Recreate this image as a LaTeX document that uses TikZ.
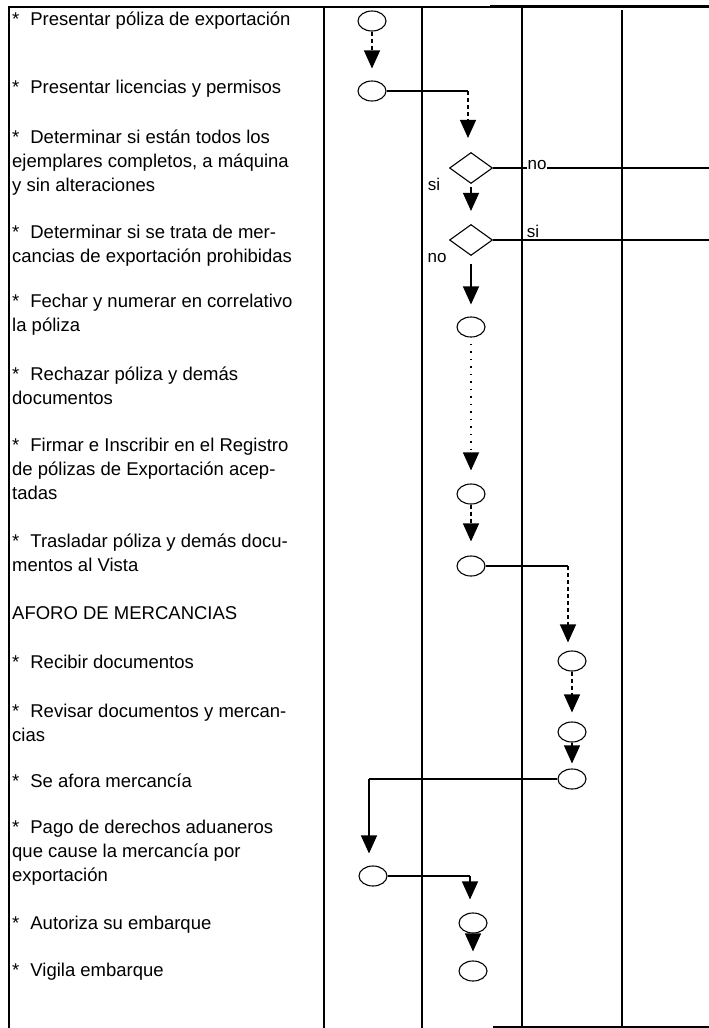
\documentclass[tikz,border=0pt]{standalone}
\usepackage{fontspec}
\setmainfont{Liberation Sans}
\usetikzlibrary{shapes.geometric,arrows.meta}
\begin{document}
\begin{tikzpicture}[x=1pt,y=-1pt,
  every node/.style={font=\fontsize{18.5}{24}\selectfont},
  txt/.style={anchor=base west, align=left, inner sep=0pt},
  ev/.style={ellipse, draw, line width=1.1pt, minimum width=28pt, minimum height=20pt, inner sep=0pt},
  dec/.style={diamond, draw, line width=1.1pt, minimum width=43pt, minimum height=31pt, inner sep=0pt},
  gridline/.style={line width=2pt},
  thingrid/.style={line width=1.6pt},
  tip/.style={-{Triangle[width=16pt,length=18pt]}, line width=1.2pt},
  plain/.style={line width=1.2pt},
  dsh/.style={dash pattern=on 4pt off 3pt},
  dts/.style={dash pattern=on 1.5pt off 6pt},
  lbl/.style={font=\fontsize{17}{20}\selectfont, inner sep=1pt}
]
\useasboundingbox (0,0) rectangle (709,1028);
% frame and columns
\draw[line width=2.5pt] (8,7) -- (709,7);
\draw[line width=3.5pt] (490,6.5) -- (709,6.5);
\draw[gridline] (9,6) -- (9,1028);
\draw[gridline] (324,6) -- (324,1028);
\draw[thingrid] (422,6) -- (422,1028);
\draw[gridline] (522,6) -- (522,1028);
\draw[gridline] (622,10) -- (622,1028);
\draw[gridline] (493,1027) -- (709,1027);

% texts (base = baseline of the last line)
\node[txt] (t1) at (12,25.5) {*\hspace{11pt}Presentar póliza de exportación};
\node[txt] (t2) at (12,93.5) {*\hspace{11pt}Presentar licencias y permisos};
\node[txt] (t3) at (12,191.5) {*\hspace{11pt}Determinar si están todos los\\ejemplares completos, a máquina\\y sin alteraciones};
\node[txt] (t4) at (12,262.5) {*\hspace{11pt}Determinar si se trata de mer-\\cancias de exportación prohibidas};
\node[txt] (t5) at (12,331.5) {*\hspace{11pt}Fechar y numerar en correlativo\\la póliza};
\node[txt] (t6) at (12,404.5) {*\hspace{11pt}Rechazar póliza y demás\\documentos};
\node[txt] (t7) at (12,499.5) {*\hspace{11pt}Firmar e Inscribir en el Registro\\de pólizas de Exportación acep-\\tadas};
\node[txt] (t8) at (12,571.5) {*\hspace{11pt}Trasladar póliza y demás docu-\\mentos al Vista};
\node[txt] (t9) at (12,619.5) {AFORO DE MERCANCIAS};
\node[txt] (t10) at (12,668.5) {*\hspace{11pt}Recibir documentos};
\node[txt] (t11) at (12,741.5) {*\hspace{11pt}Revisar documentos y mercan-\\cias};
\node[txt] (t12) at (12,787.5) {*\hspace{11pt}Se afora mercancía};
\node[txt] (t13) at (12,881.5) {*\hspace{11pt}Pago de derechos aduaneros\\que cause la mercancía por\\exportación};
\node[txt] (t14) at (12,929.5) {*\hspace{11pt}Autoriza su embarque};
\node[txt] (t15) at (12,976.5) {*\hspace{11pt}Vigila embarque};

% flow symbols
\node[ev] (e1) at (372,21) {};
\node[ev] (e2) at (372,91) {};
\node[dec] (d1) at (471,168) {};
\node[dec] (d2) at (471,240) {};
\node[ev] (e3) at (471,327) {};
\node[ev] (e4) at (471,494) {};
\node[ev] (e5) at (471,566) {};
\node[ev] (e6) at (572,661) {};
\node[ev] (e7) at (572,732) {};
\node[ev] (e8) at (572,779) {};
\node[ev] (e9) at (373,876) {};
\node[ev] (e10) at (473,923) {};
\node[ev] (e11) at (473,971) {};

\coordinate (b1) at (468,91);
\coordinate (b2) at (568,566);
\coordinate (b3) at (369,779);
\coordinate (b4) at (470,876);
\coordinate (r1) at (709,168);
\coordinate (r2) at (709,240);

% connectors
\draw[tip, dsh, shorten >=12pt] (e1) -- (e2);
\draw[plain] (e2.east) -- (b1);
\draw[tip, dsh, shorten >=14pt] (b1) -- (b1 |- d1.north);
\draw[plain] (d1.east) -- (r1);
\node[lbl, fill=white, anchor=base] (no1) at (537,169) {no};
\draw[tip, shorten <=3pt, shorten >=13pt] (d1) -- (d2);
\node[lbl, anchor=base] (si1) at (434,190) {si};
\draw[plain] (d2.east) -- (r2);
\node[lbl, anchor=base] (si2) at (533,237) {si};
\node[lbl, anchor=base] (no2) at (437,262) {no};
\draw[tip, shorten <=8pt, shorten >=12pt] (d2) -- (e3);
\draw[tip, dts, shorten <=6pt, shorten >=13pt] (e3) -- (e4);
\draw[tip, dsh, shorten >=14pt] (e4) -- (e5);
\draw[plain] (e5.east) -- (b2);
\draw[tip, dsh, shorten >=8pt] (b2) -- (b2 |- e6.north);
\draw[tip, dsh, shorten >=9pt] (e6) -- (e7);
\draw[tip, shorten >=5pt] (e7) -- (e8);
\draw[plain] (e8.west) -- (b3);
\draw[tip, shorten >=12pt] (b3) -- (b3 |- e9.north);
\draw[plain] (e9.east) -- (b4);
\draw[tip, shorten >=13pt] (b4) -- (b4 |- e10.north);
\draw[tip, shorten >=9pt] (e10) -- (e11);
\end{tikzpicture}
\end{document}
